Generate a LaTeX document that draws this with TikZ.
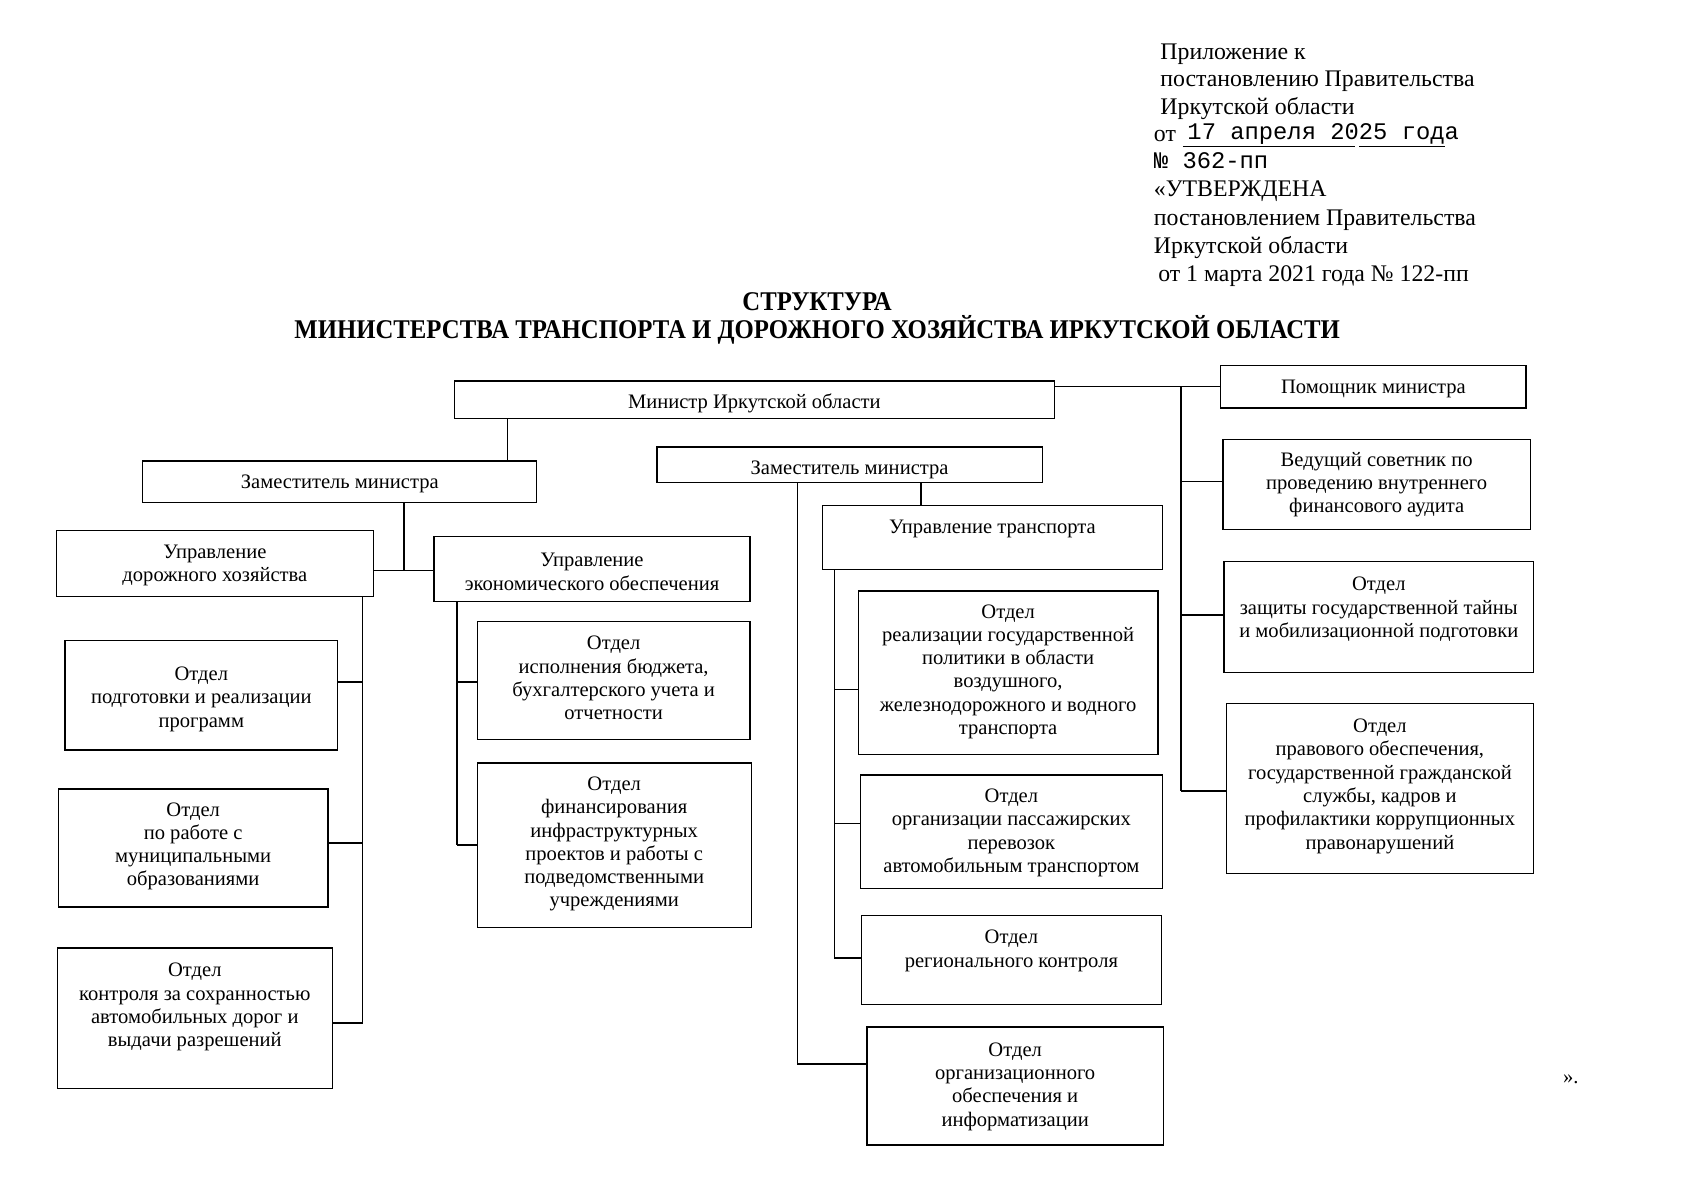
\documentclass[tikz,border=0pt]{standalone}
\usepackage{fontspec}
\usepackage{graphicx}
\setmainfont{Liberation Serif}
\newfontfamily\monof{Liberation Mono}
\usetikzlibrary{fit}
\tikzset{
  orgbox/.style={draw, line width=1.1pt, inner sep=0pt},
  btxt/.style={align=center, font=\fontsize{19}{21.5}\selectfont, inner sep=0pt, yshift=-2pt},
  conn/.style={line width=1.5pt},
  hdr/.style={anchor=base west, inner sep=0pt, font=\fontsize{22}{26}\selectfont},
  hdrmono/.style={anchor=base west, inner sep=0pt, font=\monof\fontsize{22}{26}\selectfont},
  ttl/.style={anchor=base, inner sep=0pt, font=\bfseries\fontsize{25}{30}\selectfont},
}
\newcommand\obox[7]{%
  \node[orgbox, fit={(#2,#3)(#4,#5)}] (#1) {};
  \node[btxt] (#1-t) at ({(#2+#4)/2},#6) {#7};
}
\begin{document}
\begin{tikzpicture}[x=1pt,y=-1pt]
\useasboundingbox (0,0) rectangle (1568,1108.8);

% header
\node[hdr] (h1) at (1072,55) {Приложение к};
\node[hdr] (h2) at (1072,80) {постановлению Правительства};
\node[hdr] (h3) at (1072,106) {Иркутской области};
\node[hdr] (h4a) at (1066,131) {от};
\node[hdrmono] (h4b) at (1097,129) {17 апреля 2025 года};
\draw[line width=0.8pt] (1093,135) -- (1252,135) (1256,135) -- (1335,135);
\node[hdrmono] (h5) at (1066,156) {№ 362-пп};
\node[hdr] (h6) at (1066,182) {«УТВЕРЖДЕНА};
\node[hdr] (h7) at (1066,208) {постановлением Правительства};
\node[hdr] (h8) at (1066,234) {Иркутской области};
\node[hdr] (h9) at (1070,260) {от 1 марта 2021 года № 122-пп};

% title
\node[ttl] (t1) at (755,286.5) {\resizebox{138pt}{\height}{СТРУКТУРА}};
\node[ttl] (t2) at (755,312.5) {\resizebox{966pt}{\height}{МИНИСТЕРСТВА ТРАНСПОРТА И ДОРОЖНОГО ХОЗЯЙСТВА ИРКУТСКОЙ ОБЛАСТИ}};

% boxes
\obox{min}{420}{352}{974}{387}{371}{Министр Иркутской области}
\obox{pom}{1128}{338}{1410}{377}{357}{Помощник министра}
\obox{ved}{1130}{406}{1414}{489}{446}{Ведущий советник по\\проведению внутреннего\\финансового аудита}
\obox{zas}{1131}{519}{1417}{621}{561}{Отдел\\защиты государственной тайны\\и мобилизационной подготовки}
\obox{prav}{1133}{650}{1417}{807}{724.5}{Отдел\\правового обеспечения,\\государственной гражданской\\службы, кадров и\\профилактики коррупционных\\правонарушений}

\obox{zl}{132}{426}{496}{464}{445}{Заместитель министра}
\obox{zc}{607}{413}{963}{446}{432}{Заместитель министра}

\obox{dor}{52}{490}{345}{551}{520.5}{Управление\\дорожного хозяйства}
\obox{eco}{401}{496}{693}{556}{526.5}{Управление\\экономического обеспечения}

\obox{da}{60}{592}{312}{693}{644}{Отдел\\подготовки и реализации\\программ}
\obox{db}{54}{729}{303}{838}{780}{Отдел\\по работе с\\муниципальными\\образованиями}
\obox{dc}{53}{876}{307}{1006}{928.5}{Отдел\\контроля за сохранностью\\автомобильных дорог и\\выдачи разрешений}

\obox{ea}{441}{574}{693}{683}{624.5}{Отдел\\исполнения бюджета,\\бухгалтерского учета и\\отчетности}
\obox{eb}{441}{705}{694}{857}{778}{Отдел\\финансирования\\инфраструктурных\\проектов и работы с\\подведомственными\\учреждениями}

\obox{tr}{760}{467}{1074}{526}{487}{Управление транспорта}
\obox{ta}{793}{546}{1070}{697}{618.5}{Отдел\\реализации государственной\\политики в области\\воздушного,\\железнодорожного и водного\\транспорта}
\obox{tb}{795}{716}{1074}{821}{767.5}{Отдел\\организации пассажирских\\перевозок\\автомобильным транспортом}
\obox{tc}{796}{846}{1073}{928}{876.5}{Отдел\\регионального контроля}
\obox{td}{801}{949}{1075}{1058}{1002}{Отдел\\организационного\\обеспечения и\\информатизации}

\node[btxt, anchor=base west] (endq) at (1444,999) {».};

% trunk coordinates
\coordinate (jL) at (469,0);
\coordinate (jR) at (1091,0);
\coordinate (jZ) at (373,0);
\coordinate (jD) at (335,0);
\coordinate (jE) at (422,0);
\coordinate (jT) at (851,0);
\coordinate (jO) at (737,0);
\coordinate (jU) at (771,0);

% minister connectors
\draw[conn] (min.south -| jL) -- (zl.north -| jL);
\draw[conn] (min.east |- 0,357) -- (pom.west |- 0,357);
\draw[conn] (jR |- 0,357) -- (jR |- 0,731);
\draw[conn] (jR |- 0,445) -- (ved.west |- 0,445);
\draw[conn] (jR |- 0,568) -- (zas.west |- 0,568);
\draw[conn] (jR |- 0,731) -- (prav.west |- 0,731);

% left deputy
\draw[conn] (zl.south -| jZ) -- (jZ |- 0,527);
\draw[conn] (dor.east |- 0,527) -- (eco.west |- 0,527);

% road department
\draw[conn] (dor.south -| jD) -- (jD |- 0,945);
\draw[conn] (da.east |- 0,630) -- (jD |- 0,630);
\draw[conn] (db.east |- 0,779) -- (jD |- 0,779);
\draw[conn] (dc.east |- 0,945) -- (jD |- 0,945);

% economic department
\draw[conn] (eco.south -| jE) -- (jE |- 0,781);
\draw[conn] (jE |- 0,630) -- (ea.west |- 0,630);
\draw[conn] (jE |- 0,781) -- (eb.west |- 0,781);

% center deputy
\draw[conn] (zc.south -| jT) -- (tr.north -| jT);
\draw[conn] (zc.south -| jO) -- (jO |- 0,983) -- (td.west |- 0,983);

% transport department
\draw[conn] (tr.south -| jU) -- (jU |- 0,885);
\draw[conn] (jU |- 0,637) -- (ta.west |- 0,637);
\draw[conn] (jU |- 0,761) -- (tb.west |- 0,761);
\draw[conn] (jU |- 0,885) -- (tc.west |- 0,885);
\end{tikzpicture}
\end{document}
